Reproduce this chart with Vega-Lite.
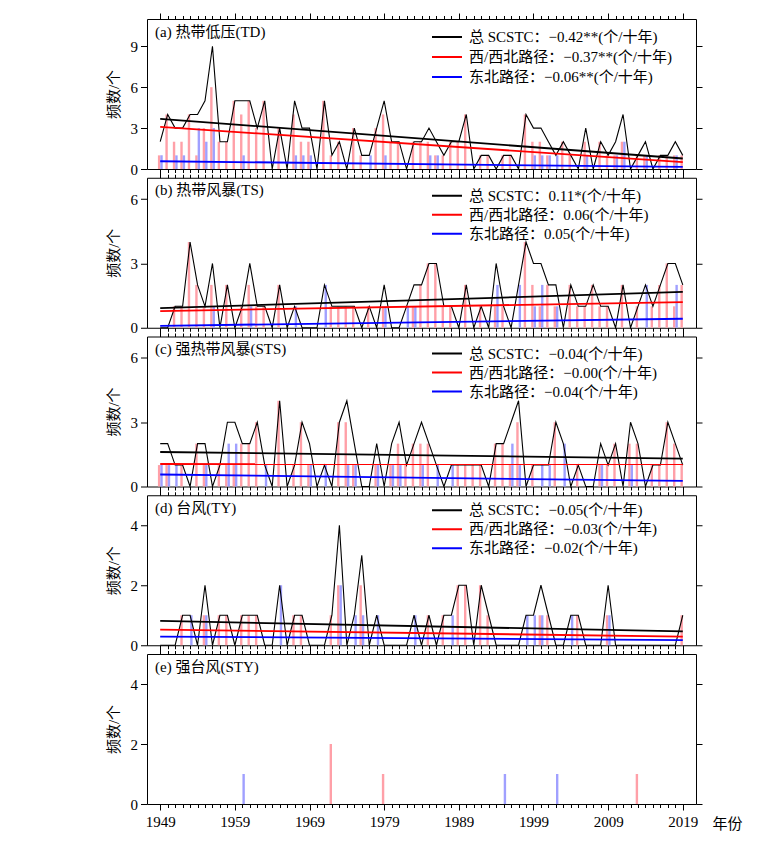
{
  "$schema": "https://vega.github.io/schema/vega-lite/v6.json",
  "padding": {"left": 105, "top": 12, "right": 5, "bottom": 5},
  "background": "white",
  "config": {
    "view": {"stroke": "#000", "strokeWidth": 1},
    "font": "Liberation Serif, Noto Sans CJK SC",
    "axis": {"labelFont": "Liberation Serif, Noto Sans CJK SC", "titleFont": "Liberation Serif, Noto Sans CJK SC", "labelColor": "#000", "titleColor": "#000", "tickColor": "#000", "domain": false, "grid": false, "labelFontSize": 15, "titleFontSize": 15, "titleFontWeight": "normal", "labelOverlap": false, "labelFlush": false, "labelBound": false},
    "legend": {"labelFont": "Liberation Serif, Noto Sans CJK SC", "labelFontSize": 15, "labelColor": "#000", "labelLimit": 0},
    "title": {"anchor": "start", "frame": "group", "offset": -27, "dx": 8, "fontSize": 15, "fontWeight": "normal", "font": "Liberation Serif, Noto Sans CJK SC", "color": "#000"}
  },
  "datasets": {
    "counts": [
      {"p":"a","year":1949,"total":2,"wnw":1,"ne":1},{"p":"a","year":1950,"total":4,"wnw":4,"ne":0},{"p":"a","year":1951,"total":3,"wnw":2,"ne":1},{"p":"a","year":1952,"total":3,"wnw":2,"ne":1},{"p":"a","year":1953,"total":4,"wnw":4,"ne":0},{"p":"a","year":1954,"total":4,"wnw":1,"ne":3},{"p":"a","year":1955,"total":5,"wnw":3,"ne":2},{"p":"a","year":1956,"total":9,"wnw":6,"ne":3},{"p":"a","year":1957,"total":2,"wnw":2,"ne":0},{"p":"a","year":1958,"total":2,"wnw":2,"ne":0},
      {"p":"a","year":1959,"total":5,"wnw":5,"ne":0},{"p":"a","year":1960,"total":5,"wnw":4,"ne":1},{"p":"a","year":1961,"total":5,"wnw":5,"ne":0},{"p":"a","year":1962,"total":3,"wnw":3,"ne":0},{"p":"a","year":1963,"total":5,"wnw":5,"ne":0},{"p":"a","year":1964,"total":0,"wnw":0,"ne":0},{"p":"a","year":1965,"total":3,"wnw":3,"ne":0},{"p":"a","year":1966,"total":0,"wnw":0,"ne":0},{"p":"a","year":1967,"total":5,"wnw":4,"ne":1},{"p":"a","year":1968,"total":3,"wnw":2,"ne":1},
      {"p":"a","year":1969,"total":3,"wnw":2,"ne":1},{"p":"a","year":1970,"total":0,"wnw":0,"ne":0},{"p":"a","year":1971,"total":5,"wnw":5,"ne":0},{"p":"a","year":1972,"total":1,"wnw":1,"ne":0},{"p":"a","year":1973,"total":2,"wnw":2,"ne":0},{"p":"a","year":1974,"total":0,"wnw":0,"ne":0},{"p":"a","year":1975,"total":3,"wnw":3,"ne":0},{"p":"a","year":1976,"total":1,"wnw":1,"ne":0},{"p":"a","year":1977,"total":1,"wnw":0,"ne":1},{"p":"a","year":1978,"total":3,"wnw":3,"ne":0},
      {"p":"a","year":1979,"total":5,"wnw":4,"ne":1},{"p":"a","year":1980,"total":2,"wnw":2,"ne":0},{"p":"a","year":1981,"total":2,"wnw":2,"ne":0},{"p":"a","year":1982,"total":0,"wnw":0,"ne":0},{"p":"a","year":1983,"total":2,"wnw":2,"ne":0},{"p":"a","year":1984,"total":2,"wnw":2,"ne":0},{"p":"a","year":1985,"total":3,"wnw":2,"ne":1},{"p":"a","year":1986,"total":2,"wnw":1,"ne":1},{"p":"a","year":1987,"total":1,"wnw":1,"ne":0},{"p":"a","year":1988,"total":2,"wnw":2,"ne":0},
      {"p":"a","year":1989,"total":2,"wnw":2,"ne":0},{"p":"a","year":1990,"total":4,"wnw":4,"ne":0},{"p":"a","year":1991,"total":0,"wnw":0,"ne":0},{"p":"a","year":1992,"total":1,"wnw":1,"ne":0},{"p":"a","year":1993,"total":1,"wnw":1,"ne":0},{"p":"a","year":1994,"total":0,"wnw":0,"ne":0},{"p":"a","year":1995,"total":1,"wnw":1,"ne":0},{"p":"a","year":1996,"total":1,"wnw":1,"ne":0},{"p":"a","year":1997,"total":0,"wnw":0,"ne":0},{"p":"a","year":1998,"total":4,"wnw":4,"ne":0},
      {"p":"a","year":1999,"total":3,"wnw":2,"ne":1},{"p":"a","year":2000,"total":3,"wnw":2,"ne":1},{"p":"a","year":2001,"total":2,"wnw":1,"ne":1},{"p":"a","year":2002,"total":1,"wnw":0,"ne":1},{"p":"a","year":2003,"total":2,"wnw":2,"ne":0},{"p":"a","year":2004,"total":1,"wnw":1,"ne":0},{"p":"a","year":2005,"total":0,"wnw":0,"ne":0},{"p":"a","year":2006,"total":3,"wnw":2,"ne":1},{"p":"a","year":2007,"total":0,"wnw":0,"ne":0},{"p":"a","year":2008,"total":2,"wnw":2,"ne":0},
      {"p":"a","year":2009,"total":1,"wnw":1,"ne":0},{"p":"a","year":2010,"total":2,"wnw":1,"ne":1},{"p":"a","year":2011,"total":4,"wnw":2,"ne":2},{"p":"a","year":2012,"total":0,"wnw":0,"ne":0},{"p":"a","year":2013,"total":1,"wnw":1,"ne":0},{"p":"a","year":2014,"total":2,"wnw":1,"ne":1},{"p":"a","year":2015,"total":0,"wnw":0,"ne":0},{"p":"a","year":2016,"total":1,"wnw":1,"ne":0},{"p":"a","year":2017,"total":1,"wnw":1,"ne":0},{"p":"a","year":2018,"total":2,"wnw":1,"ne":1},{"p":"a","year":2019,"total":1,"wnw":1,"ne":0},

      {"p":"b","year":1949,"total":0,"wnw":0,"ne":0},{"p":"b","year":1950,"total":0,"wnw":0,"ne":0},{"p":"b","year":1951,"total":1,"wnw":1,"ne":0},{"p":"b","year":1952,"total":1,"wnw":1,"ne":0},{"p":"b","year":1953,"total":4,"wnw":4,"ne":0},{"p":"b","year":1954,"total":2,"wnw":2,"ne":0},{"p":"b","year":1955,"total":1,"wnw":1,"ne":0},{"p":"b","year":1956,"total":3,"wnw":2,"ne":1},{"p":"b","year":1957,"total":0,"wnw":0,"ne":0},{"p":"b","year":1958,"total":2,"wnw":2,"ne":0},
      {"p":"b","year":1959,"total":0,"wnw":0,"ne":0},{"p":"b","year":1960,"total":1,"wnw":1,"ne":0},{"p":"b","year":1961,"total":3,"wnw":2,"ne":1},{"p":"b","year":1962,"total":1,"wnw":1,"ne":0},{"p":"b","year":1963,"total":1,"wnw":1,"ne":0},{"p":"b","year":1964,"total":0,"wnw":0,"ne":0},{"p":"b","year":1965,"total":2,"wnw":2,"ne":0},{"p":"b","year":1966,"total":0,"wnw":0,"ne":0},{"p":"b","year":1967,"total":1,"wnw":0,"ne":1},{"p":"b","year":1968,"total":0,"wnw":0,"ne":0},
      {"p":"b","year":1969,"total":0,"wnw":0,"ne":0},{"p":"b","year":1970,"total":0,"wnw":0,"ne":0},{"p":"b","year":1971,"total":2,"wnw":0,"ne":2},{"p":"b","year":1972,"total":1,"wnw":1,"ne":0},{"p":"b","year":1973,"total":1,"wnw":1,"ne":0},{"p":"b","year":1974,"total":1,"wnw":1,"ne":0},{"p":"b","year":1975,"total":1,"wnw":1,"ne":0},{"p":"b","year":1976,"total":0,"wnw":0,"ne":0},{"p":"b","year":1977,"total":1,"wnw":1,"ne":0},{"p":"b","year":1978,"total":0,"wnw":0,"ne":0},
      {"p":"b","year":1979,"total":2,"wnw":1,"ne":1},{"p":"b","year":1980,"total":0,"wnw":0,"ne":0},{"p":"b","year":1981,"total":0,"wnw":0,"ne":0},{"p":"b","year":1982,"total":1,"wnw":0,"ne":1},{"p":"b","year":1983,"total":2,"wnw":1,"ne":1},{"p":"b","year":1984,"total":2,"wnw":2,"ne":0},{"p":"b","year":1985,"total":3,"wnw":3,"ne":0},{"p":"b","year":1986,"total":3,"wnw":3,"ne":0},{"p":"b","year":1987,"total":1,"wnw":1,"ne":0},{"p":"b","year":1988,"total":1,"wnw":1,"ne":0},
      {"p":"b","year":1989,"total":0,"wnw":0,"ne":0},{"p":"b","year":1990,"total":2,"wnw":2,"ne":0},{"p":"b","year":1991,"total":0,"wnw":0,"ne":0},{"p":"b","year":1992,"total":1,"wnw":1,"ne":0},{"p":"b","year":1993,"total":0,"wnw":0,"ne":0},{"p":"b","year":1994,"total":3,"wnw":1,"ne":2},{"p":"b","year":1995,"total":1,"wnw":1,"ne":0},{"p":"b","year":1996,"total":0,"wnw":0,"ne":0},{"p":"b","year":1997,"total":2,"wnw":0,"ne":2},{"p":"b","year":1998,"total":4,"wnw":4,"ne":0},
      {"p":"b","year":1999,"total":3,"wnw":2,"ne":1},{"p":"b","year":2000,"total":3,"wnw":1,"ne":2},{"p":"b","year":2001,"total":2,"wnw":2,"ne":0},{"p":"b","year":2002,"total":2,"wnw":1,"ne":1},{"p":"b","year":2003,"total":0,"wnw":0,"ne":0},{"p":"b","year":2004,"total":2,"wnw":2,"ne":0},{"p":"b","year":2005,"total":1,"wnw":1,"ne":0},{"p":"b","year":2006,"total":1,"wnw":1,"ne":0},{"p":"b","year":2007,"total":2,"wnw":2,"ne":0},{"p":"b","year":2008,"total":1,"wnw":1,"ne":0},
      {"p":"b","year":2009,"total":1,"wnw":1,"ne":0},{"p":"b","year":2010,"total":0,"wnw":0,"ne":0},{"p":"b","year":2011,"total":2,"wnw":2,"ne":0},{"p":"b","year":2012,"total":0,"wnw":0,"ne":0},{"p":"b","year":2013,"total":1,"wnw":1,"ne":0},{"p":"b","year":2014,"total":2,"wnw":0,"ne":2},{"p":"b","year":2015,"total":1,"wnw":1,"ne":0},{"p":"b","year":2016,"total":2,"wnw":2,"ne":0},{"p":"b","year":2017,"total":3,"wnw":3,"ne":0},{"p":"b","year":2018,"total":3,"wnw":1,"ne":2},{"p":"b","year":2019,"total":2,"wnw":2,"ne":0},

      {"p":"c","year":1949,"total":2,"wnw":1,"ne":1},{"p":"c","year":1950,"total":2,"wnw":1,"ne":1},{"p":"c","year":1951,"total":1,"wnw":0,"ne":1},{"p":"c","year":1952,"total":1,"wnw":1,"ne":0},{"p":"c","year":1953,"total":0,"wnw":0,"ne":0},{"p":"c","year":1954,"total":2,"wnw":2,"ne":0},{"p":"c","year":1955,"total":2,"wnw":1,"ne":1},{"p":"c","year":1956,"total":0,"wnw":0,"ne":0},{"p":"c","year":1957,"total":1,"wnw":1,"ne":0},{"p":"c","year":1958,"total":3,"wnw":1,"ne":2},
      {"p":"c","year":1959,"total":3,"wnw":1,"ne":2},{"p":"c","year":1960,"total":2,"wnw":2,"ne":0},{"p":"c","year":1961,"total":2,"wnw":2,"ne":0},{"p":"c","year":1962,"total":3,"wnw":3,"ne":0},{"p":"c","year":1963,"total":1,"wnw":0,"ne":1},{"p":"c","year":1964,"total":0,"wnw":0,"ne":0},{"p":"c","year":1965,"total":4,"wnw":4,"ne":0},{"p":"c","year":1966,"total":0,"wnw":0,"ne":0},{"p":"c","year":1967,"total":1,"wnw":1,"ne":0},{"p":"c","year":1968,"total":3,"wnw":3,"ne":0},
      {"p":"c","year":1969,"total":2,"wnw":1,"ne":1},{"p":"c","year":1970,"total":0,"wnw":0,"ne":0},{"p":"c","year":1971,"total":1,"wnw":0,"ne":1},{"p":"c","year":1972,"total":0,"wnw":0,"ne":0},{"p":"c","year":1973,"total":3,"wnw":3,"ne":0},{"p":"c","year":1974,"total":4,"wnw":3,"ne":1},{"p":"c","year":1975,"total":2,"wnw":1,"ne":1},{"p":"c","year":1976,"total":0,"wnw":0,"ne":0},{"p":"c","year":1977,"total":0,"wnw":0,"ne":0},{"p":"c","year":1978,"total":2,"wnw":1,"ne":1},
      {"p":"c","year":1979,"total":0,"wnw":0,"ne":0},{"p":"c","year":1980,"total":2,"wnw":1,"ne":1},{"p":"c","year":1981,"total":3,"wnw":2,"ne":1},{"p":"c","year":1982,"total":1,"wnw":1,"ne":0},{"p":"c","year":1983,"total":2,"wnw":2,"ne":0},{"p":"c","year":1984,"total":3,"wnw":2,"ne":1},{"p":"c","year":1985,"total":2,"wnw":2,"ne":0},{"p":"c","year":1986,"total":1,"wnw":0,"ne":1},{"p":"c","year":1987,"total":0,"wnw":0,"ne":0},{"p":"c","year":1988,"total":1,"wnw":0,"ne":1},
      {"p":"c","year":1989,"total":1,"wnw":1,"ne":0},{"p":"c","year":1990,"total":1,"wnw":1,"ne":0},{"p":"c","year":1991,"total":1,"wnw":1,"ne":0},{"p":"c","year":1992,"total":1,"wnw":1,"ne":0},{"p":"c","year":1993,"total":0,"wnw":0,"ne":0},{"p":"c","year":1994,"total":2,"wnw":2,"ne":0},{"p":"c","year":1995,"total":2,"wnw":2,"ne":0},{"p":"c","year":1996,"total":3,"wnw":1,"ne":2},{"p":"c","year":1997,"total":4,"wnw":3,"ne":1},{"p":"c","year":1998,"total":0,"wnw":0,"ne":0},
      {"p":"c","year":1999,"total":1,"wnw":1,"ne":0},{"p":"c","year":2000,"total":1,"wnw":0,"ne":1},{"p":"c","year":2001,"total":1,"wnw":0,"ne":1},{"p":"c","year":2002,"total":3,"wnw":3,"ne":0},{"p":"c","year":2003,"total":2,"wnw":0,"ne":2},{"p":"c","year":2004,"total":0,"wnw":0,"ne":0},{"p":"c","year":2005,"total":1,"wnw":1,"ne":0},{"p":"c","year":2006,"total":0,"wnw":0,"ne":0},{"p":"c","year":2007,"total":0,"wnw":0,"ne":0},{"p":"c","year":2008,"total":2,"wnw":1,"ne":1},
      {"p":"c","year":2009,"total":1,"wnw":1,"ne":0},{"p":"c","year":2010,"total":2,"wnw":2,"ne":0},{"p":"c","year":2011,"total":0,"wnw":0,"ne":0},{"p":"c","year":2012,"total":3,"wnw":2,"ne":1},{"p":"c","year":2013,"total":2,"wnw":2,"ne":0},{"p":"c","year":2014,"total":0,"wnw":0,"ne":0},{"p":"c","year":2015,"total":1,"wnw":1,"ne":0},{"p":"c","year":2016,"total":1,"wnw":1,"ne":0},{"p":"c","year":2017,"total":3,"wnw":3,"ne":0},{"p":"c","year":2018,"total":2,"wnw":2,"ne":0},{"p":"c","year":2019,"total":1,"wnw":1,"ne":0},

      {"p":"d","year":1949,"total":0,"wnw":0,"ne":0},{"p":"d","year":1950,"total":0,"wnw":0,"ne":0},{"p":"d","year":1951,"total":0,"wnw":0,"ne":0},{"p":"d","year":1952,"total":1,"wnw":1,"ne":0},{"p":"d","year":1953,"total":1,"wnw":0,"ne":1},{"p":"d","year":1954,"total":0,"wnw":0,"ne":0},{"p":"d","year":1955,"total":2,"wnw":1,"ne":1},{"p":"d","year":1956,"total":0,"wnw":0,"ne":0},{"p":"d","year":1957,"total":1,"wnw":1,"ne":0},{"p":"d","year":1958,"total":1,"wnw":1,"ne":0},
      {"p":"d","year":1959,"total":0,"wnw":0,"ne":0},{"p":"d","year":1960,"total":1,"wnw":1,"ne":0},{"p":"d","year":1961,"total":1,"wnw":1,"ne":0},{"p":"d","year":1962,"total":1,"wnw":1,"ne":0},{"p":"d","year":1963,"total":0,"wnw":0,"ne":0},{"p":"d","year":1964,"total":0,"wnw":0,"ne":0},{"p":"d","year":1965,"total":2,"wnw":0,"ne":2},{"p":"d","year":1966,"total":0,"wnw":0,"ne":0},{"p":"d","year":1967,"total":1,"wnw":1,"ne":0},{"p":"d","year":1968,"total":1,"wnw":1,"ne":0},
      {"p":"d","year":1969,"total":0,"wnw":0,"ne":0},{"p":"d","year":1970,"total":0,"wnw":0,"ne":0},{"p":"d","year":1971,"total":0,"wnw":0,"ne":0},{"p":"d","year":1972,"total":1,"wnw":1,"ne":0},{"p":"d","year":1973,"total":4,"wnw":2,"ne":2},{"p":"d","year":1974,"total":0,"wnw":0,"ne":0},{"p":"d","year":1975,"total":1,"wnw":0,"ne":1},{"p":"d","year":1976,"total":3,"wnw":2,"ne":1},{"p":"d","year":1977,"total":0,"wnw":0,"ne":0},{"p":"d","year":1978,"total":1,"wnw":0,"ne":1},
      {"p":"d","year":1979,"total":0,"wnw":0,"ne":0},{"p":"d","year":1980,"total":0,"wnw":0,"ne":0},{"p":"d","year":1981,"total":0,"wnw":0,"ne":0},{"p":"d","year":1982,"total":0,"wnw":0,"ne":0},{"p":"d","year":1983,"total":1,"wnw":0,"ne":1},{"p":"d","year":1984,"total":0,"wnw":0,"ne":0},{"p":"d","year":1985,"total":1,"wnw":1,"ne":0},{"p":"d","year":1986,"total":0,"wnw":0,"ne":0},{"p":"d","year":1987,"total":1,"wnw":1,"ne":0},{"p":"d","year":1988,"total":1,"wnw":0,"ne":1},
      {"p":"d","year":1989,"total":2,"wnw":2,"ne":0},{"p":"d","year":1990,"total":2,"wnw":2,"ne":0},{"p":"d","year":1991,"total":0,"wnw":0,"ne":0},{"p":"d","year":1992,"total":2,"wnw":2,"ne":0},{"p":"d","year":1993,"total":1,"wnw":1,"ne":0},{"p":"d","year":1994,"total":0,"wnw":0,"ne":0},{"p":"d","year":1995,"total":0,"wnw":0,"ne":0},{"p":"d","year":1996,"total":0,"wnw":0,"ne":0},{"p":"d","year":1997,"total":0,"wnw":0,"ne":0},{"p":"d","year":1998,"total":1,"wnw":0,"ne":1},
      {"p":"d","year":1999,"total":1,"wnw":0,"ne":1},{"p":"d","year":2000,"total":2,"wnw":1,"ne":1},{"p":"d","year":2001,"total":1,"wnw":1,"ne":0},{"p":"d","year":2002,"total":0,"wnw":0,"ne":0},{"p":"d","year":2003,"total":0,"wnw":0,"ne":0},{"p":"d","year":2004,"total":1,"wnw":0,"ne":1},{"p":"d","year":2005,"total":1,"wnw":1,"ne":0},{"p":"d","year":2006,"total":0,"wnw":0,"ne":0},{"p":"d","year":2007,"total":0,"wnw":0,"ne":0},{"p":"d","year":2008,"total":0,"wnw":0,"ne":0},
      {"p":"d","year":2009,"total":2,"wnw":1,"ne":1},{"p":"d","year":2010,"total":0,"wnw":0,"ne":0},{"p":"d","year":2011,"total":0,"wnw":0,"ne":0},{"p":"d","year":2012,"total":0,"wnw":0,"ne":0},{"p":"d","year":2013,"total":0,"wnw":0,"ne":0},{"p":"d","year":2014,"total":0,"wnw":0,"ne":0},{"p":"d","year":2015,"total":0,"wnw":0,"ne":0},{"p":"d","year":2016,"total":0,"wnw":0,"ne":0},{"p":"d","year":2017,"total":0,"wnw":0,"ne":0},{"p":"d","year":2018,"total":0,"wnw":0,"ne":0},{"p":"d","year":2019,"total":1,"wnw":1,"ne":0},

      {"p":"e","year":1960,"total":1,"wnw":0,"ne":1},{"p":"e","year":1972,"total":2,"wnw":2,"ne":0},{"p":"e","year":1979,"total":1,"wnw":1,"ne":0},{"p":"e","year":1995,"total":1,"wnw":0,"ne":1},{"p":"e","year":2002,"total":1,"wnw":0,"ne":1},{"p":"e","year":2013,"total":1,"wnw":1,"ne":0}
    ],
    "trends": [
      {"p":"a","s":"total","year":1949,"v":3.68},{"p":"a","s":"total","year":2019,"v":0.77},
      {"p":"a","s":"wnw","year":1949,"v":3.09},{"p":"a","s":"wnw","year":2019,"v":0.5},
      {"p":"a","s":"ne","year":1949,"v":0.57},{"p":"a","s":"ne","year":2019,"v":0.15},
      {"p":"b","s":"total","year":1949,"v":0.92},{"p":"b","s":"total","year":2019,"v":1.67},
      {"p":"b","s":"wnw","year":1949,"v":0.78},{"p":"b","s":"wnw","year":2019,"v":1.2},
      {"p":"b","s":"ne","year":1949,"v":0.09},{"p":"b","s":"ne","year":2019,"v":0.42},
      {"p":"c","s":"total","year":1949,"v":1.61},{"p":"c","s":"total","year":2019,"v":1.3},
      {"p":"c","s":"wnw","year":1949,"v":1.05},{"p":"c","s":"wnw","year":2019,"v":1.04},
      {"p":"c","s":"ne","year":1949,"v":0.56},{"p":"c","s":"ne","year":2019,"v":0.26},
      {"p":"d","s":"total","year":1949,"v":0.81},{"p":"d","s":"total","year":2019,"v":0.46},
      {"p":"d","s":"wnw","year":1949,"v":0.52},{"p":"d","s":"wnw","year":2019,"v":0.29},
      {"p":"d","s":"ne","year":1949,"v":0.29},{"p":"d","s":"ne","year":2019,"v":0.17}
    ]
  },
  "vconcat": [
    {
      "width": 549, "height": 150,
      "title": {"text": "(a) 热带低压(TD)"},
      "layer": [
        {"data": {"name": "counts"}, "transform": [{"filter": "datum.p == 'a'"}],
         "mark": {"type": "bar", "width": 2.4, "xOffset": -1.1, "color": "#ffa0a8"},
         "encoding": {
           "x": {"field": "year", "type": "quantitative", "scale": {"domain": [1947.9, 2020.1], "nice": false, "zero": false},
                 "axis": {"orient": "bottom", "values": [1949,1950,1951,1952,1953,1954,1955,1956,1957,1958,1959,1960,1961,1962,1963,1964,1965,1966,1967,1968,1969,1970,1971,1972,1973,1974,1975,1976,1977,1978,1979,1980,1981,1982,1983,1984,1985,1986,1987,1988,1989,1990,1991,1992,1993,1994,1995,1996,1997,1998,1999,2000,2001,2002,2003,2004,2005,2006,2007,2008,2009,2010,2011,2012,2013,2014,2015,2016,2017,2018,2019], "labels": false, "title": null, "tickSize": {"condition": {"test": "(datum.value - 1949) % 10 == 0", "value": 6}, "value": 3.5}}},
           "y": {"field": "wnw", "type": "quantitative", "scale": {"domain": [0, 11], "nice": false},
                 "axis": {"orient": "left", "values": [0, 3, 6, 9], "title": "频数/个", "tickSize": 6.5, "labelPadding": 3, "titlePadding": 9}}
         }},
        {"data": {"name": "counts"}, "transform": [{"filter": "datum.p == 'a'"}],
         "mark": {"type": "bar", "width": 2.4, "xOffset": 1.3, "color": "#a0a0ff"},
         "encoding": {
           "x": {"field": "year", "type": "quantitative",
                 "axis": {"orient": "top", "values": [1949,1950,1951,1952,1953,1954,1955,1956,1957,1958,1959,1960,1961,1962,1963,1964,1965,1966,1967,1968,1969,1970,1971,1972,1973,1974,1975,1976,1977,1978,1979,1980,1981,1982,1983,1984,1985,1986,1987,1988,1989,1990,1991,1992,1993,1994,1995,1996,1997,1998,1999,2000,2001,2002,2003,2004,2005,2006,2007,2008,2009,2010,2011,2012,2013,2014,2015,2016,2017,2018,2019], "labels": false, "title": null, "tickSize": {"condition": {"test": "(datum.value - 1949) % 10 == 0", "value": 6}, "value": 3.5}}},
           "y": {"field": "ne", "type": "quantitative",
                 "axis": {"orient": "right", "values": [0, 3, 6, 9], "labels": false, "title": null, "tickSize": 6}}
         }},
        {"data": {"name": "counts"}, "transform": [{"filter": "datum.p == 'a'"}],
         "mark": {"type": "line", "color": "#000", "strokeWidth": 1.1},
         "encoding": {"x": {"field": "year", "type": "quantitative", "axis": null}, "y": {"field": "total", "type": "quantitative", "axis": null}}},
        {"data": {"name": "trends"}, "transform": [{"filter": "datum.p == 'a'"}],
         "mark": {"type": "line", "strokeWidth": 1.8},
         "encoding": {"x": {"field": "year", "type": "quantitative", "axis": null}, "y": {"field": "v", "type": "quantitative", "axis": null},
           "color": {"field": "s", "type": "nominal", "scale": {"domain": ["total", "wnw", "ne"], "range": ["#000000", "#ff0000", "#0000ff"]},
             "legend": {"orient": "none", "legendX": 284, "legendY": 10, "title": null, "padding": 0, "symbolType": "stroke", "symbolSize": 900, "symbolStrokeWidth": 2, "clipHeight": 16, "rowPadding": 4, "labelOffset": 6, "labelLimit": 0, "labelFont": "Liberation Serif, Noto Sans CJK SC",
               "labelExpr": "datum.value == 'total' ? '总 SCSTC：−0.42**(个/十年)' : datum.value == 'wnw' ? '西/西北路径：−0.37**(个/十年)' : '东北路径：−0.06**(个/十年)'"}}}}
      ],
      "resolve": {"axis": {"x": "independent", "y": "independent"}}
    },
    {
      "width": 549, "height": 150,
      "title": {"text": "(b) 热带风暴(TS)"},
      "layer": [
        {"data": {"name": "counts"}, "transform": [{"filter": "datum.p == 'b'"}],
         "mark": {"type": "bar", "width": 2.4, "xOffset": -1.1, "color": "#ffa0a8"},
         "encoding": {
           "x": {"field": "year", "type": "quantitative", "scale": {"domain": [1947.9, 2020.1], "nice": false, "zero": false},
                 "axis": {"orient": "bottom", "values": [1949,1950,1951,1952,1953,1954,1955,1956,1957,1958,1959,1960,1961,1962,1963,1964,1965,1966,1967,1968,1969,1970,1971,1972,1973,1974,1975,1976,1977,1978,1979,1980,1981,1982,1983,1984,1985,1986,1987,1988,1989,1990,1991,1992,1993,1994,1995,1996,1997,1998,1999,2000,2001,2002,2003,2004,2005,2006,2007,2008,2009,2010,2011,2012,2013,2014,2015,2016,2017,2018,2019], "labels": false, "title": null, "tickSize": {"condition": {"test": "(datum.value - 1949) % 10 == 0", "value": 6}, "value": 3.5}}},
           "y": {"field": "wnw", "type": "quantitative", "scale": {"domain": [0, 7], "nice": false},
                 "axis": {"orient": "left", "values": [0, 3, 6], "title": "频数/个", "tickSize": 6.5, "labelPadding": 3, "titlePadding": 9}}
         }},
        {"data": {"name": "counts"}, "transform": [{"filter": "datum.p == 'b'"}],
         "mark": {"type": "bar", "width": 2.4, "xOffset": 1.3, "color": "#a0a0ff"},
         "encoding": {
           "x": {"field": "year", "type": "quantitative",
                 "axis": {"orient": "top", "values": [1949,1950,1951,1952,1953,1954,1955,1956,1957,1958,1959,1960,1961,1962,1963,1964,1965,1966,1967,1968,1969,1970,1971,1972,1973,1974,1975,1976,1977,1978,1979,1980,1981,1982,1983,1984,1985,1986,1987,1988,1989,1990,1991,1992,1993,1994,1995,1996,1997,1998,1999,2000,2001,2002,2003,2004,2005,2006,2007,2008,2009,2010,2011,2012,2013,2014,2015,2016,2017,2018,2019], "labels": false, "title": null, "tickSize": {"condition": {"test": "(datum.value - 1949) % 10 == 0", "value": 6}, "value": 3.5}}},
           "y": {"field": "ne", "type": "quantitative",
                 "axis": {"orient": "right", "values": [0, 3, 6], "labels": false, "title": null, "tickSize": 6}}
         }},
        {"data": {"name": "counts"}, "transform": [{"filter": "datum.p == 'b'"}],
         "mark": {"type": "line", "color": "#000", "strokeWidth": 1.1},
         "encoding": {"x": {"field": "year", "type": "quantitative", "axis": null}, "y": {"field": "total", "type": "quantitative", "axis": null}}},
        {"data": {"name": "trends"}, "transform": [{"filter": "datum.p == 'b'"}],
         "mark": {"type": "line", "strokeWidth": 1.8},
         "encoding": {"x": {"field": "year", "type": "quantitative", "axis": null}, "y": {"field": "v", "type": "quantitative", "axis": null},
           "color": {"field": "s", "type": "nominal", "scale": {"domain": ["total", "wnw", "ne"], "range": ["#000000", "#ff0000", "#0000ff"]},
             "legend": {"orient": "none", "legendX": 284, "legendY": 10, "title": null, "padding": 0, "symbolType": "stroke", "symbolSize": 900, "symbolStrokeWidth": 2, "clipHeight": 16, "rowPadding": 3, "labelOffset": 6, "labelLimit": 0, "labelFont": "Liberation Serif, Noto Sans CJK SC",
               "labelExpr": "datum.value == 'total' ? '总 SCSTC：0.11*(个/十年)' : datum.value == 'wnw' ? '西/西北路径：0.06(个/十年)' : '东北路径：0.05(个/十年)'"}}}}
      ],
      "resolve": {"axis": {"x": "independent", "y": "independent"}}
    },
    {
      "width": 549, "height": 150,
      "title": {"text": "(c) 强热带风暴(STS)"},
      "layer": [
        {"data": {"name": "counts"}, "transform": [{"filter": "datum.p == 'c'"}],
         "mark": {"type": "bar", "width": 2.4, "xOffset": -1.1, "color": "#ffa0a8"},
         "encoding": {
           "x": {"field": "year", "type": "quantitative", "scale": {"domain": [1947.9, 2020.1], "nice": false, "zero": false},
                 "axis": {"orient": "bottom", "values": [1949,1950,1951,1952,1953,1954,1955,1956,1957,1958,1959,1960,1961,1962,1963,1964,1965,1966,1967,1968,1969,1970,1971,1972,1973,1974,1975,1976,1977,1978,1979,1980,1981,1982,1983,1984,1985,1986,1987,1988,1989,1990,1991,1992,1993,1994,1995,1996,1997,1998,1999,2000,2001,2002,2003,2004,2005,2006,2007,2008,2009,2010,2011,2012,2013,2014,2015,2016,2017,2018,2019], "labels": false, "title": null, "tickSize": {"condition": {"test": "(datum.value - 1949) % 10 == 0", "value": 6}, "value": 3.5}}},
           "y": {"field": "wnw", "type": "quantitative", "scale": {"domain": [0, 7], "nice": false},
                 "axis": {"orient": "left", "values": [0, 3, 6], "title": "频数/个", "tickSize": 6.5, "labelPadding": 3, "titlePadding": 9}}
         }},
        {"data": {"name": "counts"}, "transform": [{"filter": "datum.p == 'c'"}],
         "mark": {"type": "bar", "width": 2.4, "xOffset": 1.3, "color": "#a0a0ff"},
         "encoding": {
           "x": {"field": "year", "type": "quantitative",
                 "axis": {"orient": "top", "values": [1949,1950,1951,1952,1953,1954,1955,1956,1957,1958,1959,1960,1961,1962,1963,1964,1965,1966,1967,1968,1969,1970,1971,1972,1973,1974,1975,1976,1977,1978,1979,1980,1981,1982,1983,1984,1985,1986,1987,1988,1989,1990,1991,1992,1993,1994,1995,1996,1997,1998,1999,2000,2001,2002,2003,2004,2005,2006,2007,2008,2009,2010,2011,2012,2013,2014,2015,2016,2017,2018,2019], "labels": false, "title": null, "tickSize": {"condition": {"test": "(datum.value - 1949) % 10 == 0", "value": 6}, "value": 3.5}}},
           "y": {"field": "ne", "type": "quantitative",
                 "axis": {"orient": "right", "values": [0, 3, 6], "labels": false, "title": null, "tickSize": 6}}
         }},
        {"data": {"name": "counts"}, "transform": [{"filter": "datum.p == 'c'"}],
         "mark": {"type": "line", "color": "#000", "strokeWidth": 1.1},
         "encoding": {"x": {"field": "year", "type": "quantitative", "axis": null}, "y": {"field": "total", "type": "quantitative", "axis": null}}},
        {"data": {"name": "trends"}, "transform": [{"filter": "datum.p == 'c'"}],
         "mark": {"type": "line", "strokeWidth": 1.8},
         "encoding": {"x": {"field": "year", "type": "quantitative", "axis": null}, "y": {"field": "v", "type": "quantitative", "axis": null},
           "color": {"field": "s", "type": "nominal", "scale": {"domain": ["total", "wnw", "ne"], "range": ["#000000", "#ff0000", "#0000ff"]},
             "legend": {"orient": "none", "legendX": 284, "legendY": 9, "title": null, "padding": 0, "symbolType": "stroke", "symbolSize": 900, "symbolStrokeWidth": 2, "clipHeight": 16, "rowPadding": 3, "labelOffset": 6, "labelLimit": 0, "labelFont": "Liberation Serif, Noto Sans CJK SC",
               "labelExpr": "datum.value == 'total' ? '总 SCSTC：−0.04(个/十年)' : datum.value == 'wnw' ? '西/西北路径：−0.00(个/十年)' : '东北路径：−0.04(个/十年)'"}}}}
      ],
      "resolve": {"axis": {"x": "independent", "y": "independent"}}
    },
    {
      "width": 549, "height": 150,
      "title": {"text": "(d) 台风(TY)"},
      "layer": [
        {"data": {"name": "counts"}, "transform": [{"filter": "datum.p == 'd'"}],
         "mark": {"type": "bar", "width": 2.4, "xOffset": -1.1, "color": "#ffa0a8"},
         "encoding": {
           "x": {"field": "year", "type": "quantitative", "scale": {"domain": [1947.9, 2020.1], "nice": false, "zero": false},
                 "axis": {"orient": "bottom", "values": [1949,1950,1951,1952,1953,1954,1955,1956,1957,1958,1959,1960,1961,1962,1963,1964,1965,1966,1967,1968,1969,1970,1971,1972,1973,1974,1975,1976,1977,1978,1979,1980,1981,1982,1983,1984,1985,1986,1987,1988,1989,1990,1991,1992,1993,1994,1995,1996,1997,1998,1999,2000,2001,2002,2003,2004,2005,2006,2007,2008,2009,2010,2011,2012,2013,2014,2015,2016,2017,2018,2019], "labels": false, "title": null, "tickSize": {"condition": {"test": "(datum.value - 1949) % 10 == 0", "value": 6}, "value": 3.5}}},
           "y": {"field": "wnw", "type": "quantitative", "scale": {"domain": [0, 5], "nice": false},
                 "axis": {"orient": "left", "values": [0, 2, 4], "title": "频数/个", "tickSize": 6.5, "labelPadding": 3, "titlePadding": 9}}
         }},
        {"data": {"name": "counts"}, "transform": [{"filter": "datum.p == 'd'"}],
         "mark": {"type": "bar", "width": 2.4, "xOffset": 1.3, "color": "#a0a0ff"},
         "encoding": {
           "x": {"field": "year", "type": "quantitative",
                 "axis": {"orient": "top", "values": [1949,1950,1951,1952,1953,1954,1955,1956,1957,1958,1959,1960,1961,1962,1963,1964,1965,1966,1967,1968,1969,1970,1971,1972,1973,1974,1975,1976,1977,1978,1979,1980,1981,1982,1983,1984,1985,1986,1987,1988,1989,1990,1991,1992,1993,1994,1995,1996,1997,1998,1999,2000,2001,2002,2003,2004,2005,2006,2007,2008,2009,2010,2011,2012,2013,2014,2015,2016,2017,2018,2019], "labels": false, "title": null, "tickSize": {"condition": {"test": "(datum.value - 1949) % 10 == 0", "value": 6}, "value": 3.5}}},
           "y": {"field": "ne", "type": "quantitative",
                 "axis": {"orient": "right", "values": [0, 2, 4], "labels": false, "title": null, "tickSize": 6}}
         }},
        {"data": {"name": "counts"}, "transform": [{"filter": "datum.p == 'd'"}],
         "mark": {"type": "line", "color": "#000", "strokeWidth": 1.1},
         "encoding": {"x": {"field": "year", "type": "quantitative", "axis": null}, "y": {"field": "total", "type": "quantitative", "axis": null}}},
        {"data": {"name": "trends"}, "transform": [{"filter": "datum.p == 'd'"}],
         "mark": {"type": "line", "strokeWidth": 1.8},
         "encoding": {"x": {"field": "year", "type": "quantitative", "axis": null}, "y": {"field": "v", "type": "quantitative", "axis": null},
           "color": {"field": "s", "type": "nominal", "scale": {"domain": ["total", "wnw", "ne"], "range": ["#000000", "#ff0000", "#0000ff"]},
             "legend": {"orient": "none", "legendX": 284, "legendY": 7, "title": null, "padding": 0, "symbolType": "stroke", "symbolSize": 900, "symbolStrokeWidth": 2, "clipHeight": 16, "rowPadding": 3, "labelOffset": 6, "labelLimit": 0, "labelFont": "Liberation Serif, Noto Sans CJK SC",
               "labelExpr": "datum.value == 'total' ? '总 SCSTC：−0.05(个/十年)' : datum.value == 'wnw' ? '西/西北路径：−0.03(个/十年)' : '东北路径：−0.02(个/十年)'"}}}}
      ],
      "resolve": {"axis": {"x": "independent", "y": "independent"}}
    },
    {
      "width": 549, "height": 150,
      "title": {"text": "(e) 强台风(STY)"},
      "layer": [
        {"data": {"name": "counts"}, "transform": [{"filter": "datum.p == 'e'"}],
         "mark": {"type": "bar", "width": 2.4, "xOffset": -1.1, "color": "#ffa0a8"},
         "encoding": {
           "x": {"field": "year", "type": "quantitative", "scale": {"domain": [1947.9, 2020.1], "nice": false, "zero": false},
                 "axis": {"orient": "bottom", "values": [1949,1950,1951,1952,1953,1954,1955,1956,1957,1958,1959,1960,1961,1962,1963,1964,1965,1966,1967,1968,1969,1970,1971,1972,1973,1974,1975,1976,1977,1978,1979,1980,1981,1982,1983,1984,1985,1986,1987,1988,1989,1990,1991,1992,1993,1994,1995,1996,1997,1998,1999,2000,2001,2002,2003,2004,2005,2006,2007,2008,2009,2010,2011,2012,2013,2014,2015,2016,2017,2018,2019], "format": "d", "labelExpr": "(datum.value - 1949) % 10 == 0 ? datum.label : ''", "labelPadding": 4, "title": "年份", "titleX": 565, "titleY": 19, "titleAlign": "left", "titleBaseline": "middle", "titleFontSize": 15, "tickSize": {"condition": {"test": "(datum.value - 1949) % 10 == 0", "value": 6}, "value": 3.5}}},
           "y": {"field": "wnw", "type": "quantitative", "scale": {"domain": [0, 5], "nice": false},
                 "axis": {"orient": "left", "values": [0, 2, 4], "title": "频数/个", "tickSize": 6.5, "labelPadding": 3, "titlePadding": 9}}
         }},
        {"data": {"name": "counts"}, "transform": [{"filter": "datum.p == 'e'"}],
         "mark": {"type": "bar", "width": 2.4, "xOffset": 1.3, "color": "#a0a0ff"},
         "encoding": {
           "x": {"field": "year", "type": "quantitative",
                 "axis": {"orient": "top", "values": [1949,1950,1951,1952,1953,1954,1955,1956,1957,1958,1959,1960,1961,1962,1963,1964,1965,1966,1967,1968,1969,1970,1971,1972,1973,1974,1975,1976,1977,1978,1979,1980,1981,1982,1983,1984,1985,1986,1987,1988,1989,1990,1991,1992,1993,1994,1995,1996,1997,1998,1999,2000,2001,2002,2003,2004,2005,2006,2007,2008,2009,2010,2011,2012,2013,2014,2015,2016,2017,2018,2019], "labels": false, "title": null, "tickSize": {"condition": {"test": "(datum.value - 1949) % 10 == 0", "value": 6}, "value": 3.5}}},
           "y": {"field": "ne", "type": "quantitative",
                 "axis": {"orient": "right", "values": [0, 2, 4], "labels": false, "title": null, "tickSize": 6}}
         }}
      ],
      "resolve": {"axis": {"x": "independent", "y": "independent"}}
    }
  ],
  "spacing": 8.75,
  "bounds": "flush",
  "resolve": {"scale": {"color": "independent"}, "legend": {"color": "independent"}}
}
